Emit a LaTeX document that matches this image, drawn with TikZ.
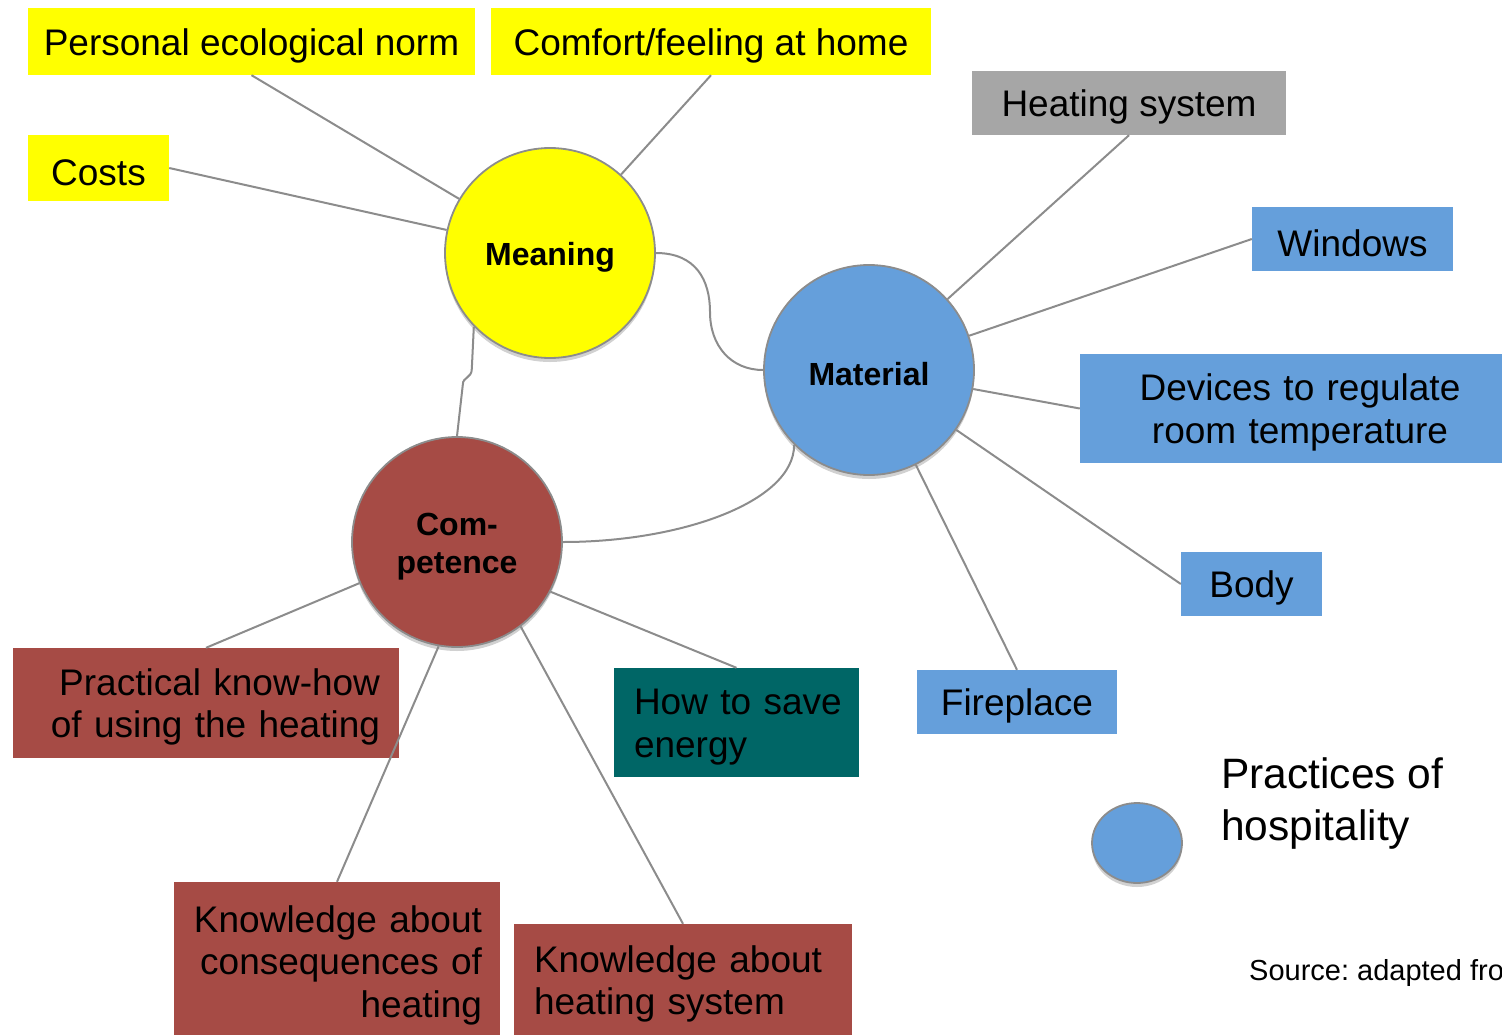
\documentclass[tikz,border=0pt]{standalone}
\usepackage{fontspec}
\setmainfont{Liberation Sans}
\usetikzlibrary{shapes.geometric,shadows}

\definecolor{normyellow}{HTML}{FFFF00}
\definecolor{matblue}{HTML}{659FDB}
\definecolor{compred}{HTML}{A64B45}
\definecolor{saveteal}{HTML}{006666}
\definecolor{sysgray}{HTML}{A6A6A6}
\definecolor{linkgray}{HTML}{8C8C8C}

\tikzset{
  softshadow/.style={drop shadow={shadow xshift=0pt, shadow yshift=-4pt, fill=black!18, opacity=1}},
  hub/.style={circle, draw=linkgray, line width=1.8pt, fill=#1, minimum size=210pt,
    inner sep=0pt, text width=180pt, align=center, softshadow,
    font=\fontsize{32}{38}\selectfont\bfseries,
    execute at begin node={\rule{0pt}{32pt}}},
  tag/.style={rectangle, fill=#1, inner sep=0pt, font=\fontsize{37}{42.5}\selectfont,
    execute at begin node={\rule{0pt}{35pt}}},
  link/.style={draw=linkgray, line width=2pt},
}

\begin{document}
\frenchspacing
\begin{tikzpicture}[x=1pt, y=-1pt]
      \useasboundingbox (0,0) rectangle (1502,1034);

      % The three elements
      \node[hub=normyellow] (meaning) at (550,253) {Meaning};
      \node[hub=matblue] (material) at (869,370) {Material};
      \node[hub=compred] (competence) at (457,542) {Com-\\petence};

      % Meaning
      \node[tag=normyellow, minimum width=447pt, minimum height=67pt] (norm) at (251.5,41.5) {Personal ecological norm};
      \node[tag=normyellow, minimum width=440pt, minimum height=67pt] (comfort) at (711,41.5) {Comfort/feeling at home};
      \node[tag=normyellow, minimum width=141pt, minimum height=66pt] (costs) at (98.5,168) {Costs};

      % Material
      \node[tag=sysgray, minimum width=314pt, minimum height=64pt] (heating) at (1129,103) {Heating system};
      \node[tag=matblue, minimum width=201pt, minimum height=64pt] (windows) at (1352.5,239) {Windows};
      \node[tag=matblue, text width=440pt, minimum height=109pt, align=center] (devices) at (1300,408.5) {Devices to regulate\\room temperature};
      \node[tag=matblue, minimum width=141pt, minimum height=64pt] (body) at (1251.5,584) {Body};
      \node[tag=matblue, minimum width=200pt, minimum height=64pt] (fireplace) at (1017,702) {Fireplace};

      % Competence
      \node[tag=saveteal, text width=205pt, inner xsep=20pt, minimum height=109pt, align=left] (save) at (736.5,722.5) {\mbox{How to save}\\energy};
      \node[tag=compred, text width=348pt, inner xsep=19pt, minimum height=110pt, align=right] (knowhow) at (206,703) {Practical know-how\\of using the heating};
      \node[tag=compred, text width=290pt, inner xsep=18pt, minimum height=158pt, align=right] (consequences) at (337,961) {Knowledge about\\consequences of\\heating};
      \node[tag=compred, text width=298pt, inner xsep=20pt, minimum height=112pt, align=left] (system) at (683,980) {Knowledge about\\heating system};

      % Links between the elements
      \draw[link] (meaning.east) .. controls +(40,0) and +(0,-32) .. (710,312)
                  .. controls +(0,34) and +(-32,0) .. (material.west);
      \draw[link] (meaning.-136) -- ++(-2,42) .. controls +(0,10) and +(0,-8) .. ++(-9,16) -- (competence.north);
      \draw[link] (material.-135) .. controls +(0,57) and +(118,0) .. (competence.east);

      % Links to the items
      \draw[link] (meaning) -- (norm.south);
      \draw[link] (meaning) -- (comfort.south);
      \draw[link] (meaning) -- (costs.east);
      \draw[link] (material) -- (heating.south);
      \draw[link] (material) -- (windows.west);
      \draw[link] (material) -- (devices.west);
      \draw[link] (material) -- (body.west);
      \draw[link] (material) -- (fireplace.north);
      \draw[link] (competence) -- (knowhow.north);
      \draw[link] (competence.-100) -- (consequences.north);
      \draw[link] (competence.-53) -- (system.north);
      \draw[link] (competence.-28) -- (save.north);

      % Legend and source
      \node[ellipse, draw=linkgray, line width=1.8pt, fill=matblue, minimum width=90pt, minimum height=80pt, softshadow] (legend) at (1137,843) {};
      \node[anchor=north west, inner sep=0pt, align=left, font=\fontsize{42.5}{52}\selectfont] (practices) at (1221,757) {Practices of\\hospitality};
      \node[anchor=base west, inner sep=0pt, font=\fontsize{29}{34}\selectfont] (source) at (1249,980) {Source: adapted from};
\end{tikzpicture}
\end{document}
